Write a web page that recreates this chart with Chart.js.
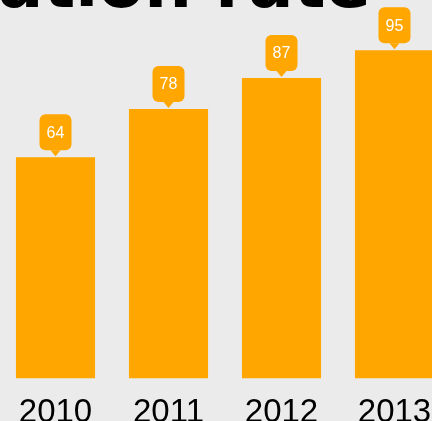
<!DOCTYPE html>
<html>
<head>
<meta charset="utf-8">
<script src="https://cdn.jsdelivr.net/npm/chart.js@4/dist/chart.umd.min.js"></script>
<style>
  html, body {
    margin: 0;
    padding: 0;
    width: 432px;
    height: 421px;
    overflow: hidden;
    background: #ebebeb;
  }
  #title {
    position: absolute;
    right: 61px;
    top: -49px;
    font-family: "DejaVu Sans", sans-serif;
    font-weight: bold;
    font-size: 67px;
    line-height: 67px;
    white-space: nowrap;
    color: #000;
  }
  #chart {
    position: absolute;
    left: -1px;
    top: 0;
  }
</style>
</head>
<body>
<div id="title">Graduation rate</div>
<canvas id="chart" width="452" height="440"></canvas>
<script>
// Yearly values shown on the bars
const years = ['2010', '2011', '2012', '2013'];
const rates = [64, 78, 87, 95];
const yMax = 100;

const barColor = '#ffa600';

/**
 * Draw a rounded value tag with a small pointer above each bar
 */
const valueTags = {
  id: 'valueTags',
  afterDatasetsDraw(chart) {
    const ctx = chart.ctx;
    const meta = chart.getDatasetMeta(0);
    const w = 32, h = 36, r = 6, tipH = 6, tipW = 5, gap = 1;

    ctx.save();
    meta.data.forEach((bar, i) => {
      const tipY = bar.y - gap;
      const bottom = tipY - tipH;
      const top = bottom - h;
      const left = bar.x - w / 2;

      ctx.fillStyle = barColor;
      ctx.beginPath();
      ctx.roundRect(left, top, w, h, r);
      ctx.fill();
      ctx.beginPath();
      ctx.moveTo(bar.x - tipW, bottom);
      ctx.lineTo(bar.x, tipY);
      ctx.lineTo(bar.x + tipW, bottom);
      ctx.closePath();
      ctx.fill();

      ctx.fillStyle = '#ffffff';
      ctx.font = '16px "Liberation Sans", Arial, sans-serif';
      ctx.textAlign = 'center';
      ctx.textBaseline = 'middle';
      ctx.fillText(String(rates[i]), bar.x, top + h / 2 + 1);
    });
    ctx.restore();
  }
};

new Chart(document.getElementById('chart'), {
  type: 'bar',
  data: {
    labels: years,
    datasets: [{
      data: rates,
      backgroundColor: barColor,
      borderWidth: 0,
      barPercentage: 0.7,
      categoryPercentage: 1
    }]
  },
  options: {
    responsive: false,
    devicePixelRatio: 1,
    animation: false,
    layout: { padding: { top: 33, left: 0, right: 0, bottom: 0 } },
    plugins: {
      legend: { display: false },
      tooltip: { enabled: false }
    },
    scales: {
      x: {
        grid: { display: false },
        border: { display: false },
        ticks: {
          color: '#000',
          padding: 7,
          font: { family: '"Liberation Sans", Arial, sans-serif', size: 33 }
        }
      },
      y: {
        display: false,
        min: 0,
        max: yMax
      }
    }
  },
  plugins: [valueTags]
});
</script>
</body>
</html>
